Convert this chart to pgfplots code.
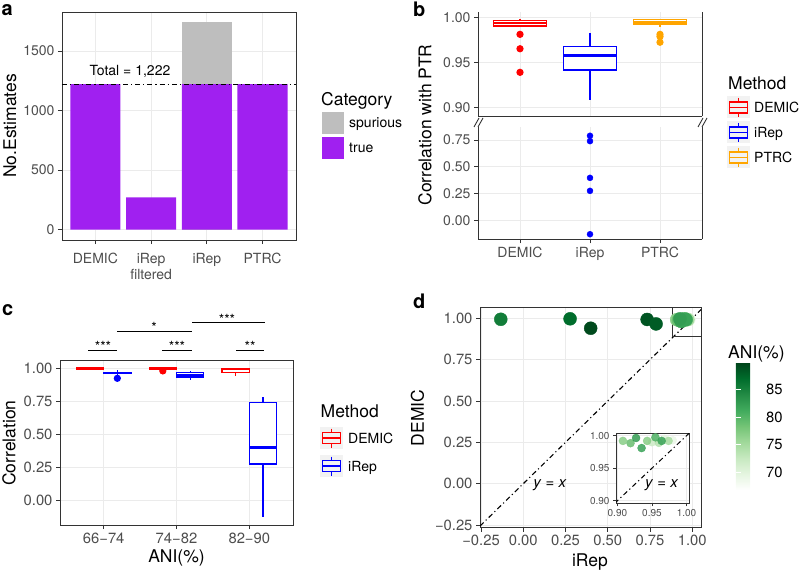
\documentclass[border=0pt]{standalone}
\usepackage{fontspec}
\setmainfont{TeX Gyre Heros}
\usepackage{pgfplots}
\pgfplotsset{compat=1.18}
\usepgfplotslibrary{statistics}

\definecolor{gridgrey}{HTML}{EBEBEB}
\definecolor{ticktext}{HTML}{4D4D4D}
\definecolor{frame}{HTML}{333333}
\definecolor{truepurple}{HTML}{A020F0}
\definecolor{spurgrey}{HTML}{BEBEBE}
\definecolor{keybg}{HTML}{F2F2F2}
\definecolor{ggred}{HTML}{FF0000}
\definecolor{ggblue}{HTML}{0000FF}
\definecolor{ggorange}{HTML}{FFA500}

\newcommand\tickfont{\fontsize{14}{16}\selectfont}
\newcommand\bigtick{\fontsize{14.8}{17}\selectfont}
\newcommand\smalltick{\fontsize{10}{12}\selectfont}
\newcommand\titlefont{\fontsize{17.5}{20}\selectfont}
\newcommand\legfont{\fontsize{14}{16}\selectfont}
\newcommand\panelfont{\fontsize{20}{22}\selectfont\bfseries}

\pgfplotsset{
  colormap={anigreens}{rgb255=(255,255,255) rgb255=(229,245,224) rgb255=(199,233,192)
    rgb255=(161,217,155) rgb255=(116,196,118) rgb255=(65,171,93) rgb255=(35,139,69)
    rgb255=(0,109,44) rgb255=(0,68,27)},
  gg/.style={
    scale only axis, anchor=north west,
    axis line style={frame, line width=0.9pt},
    grid=major, grid style={gridgrey, line width=0.9pt},
    tick align=outside, tick pos=left, major tick length=4pt,
    tick style={frame, line width=0.9pt},
    ticklabel style={font=\tickfont, text=ticktext},
    boxplot/draw direction=y,
  },
  ggbox/.style={
    boxplot/whisker extend=0,
    boxplot/every box/.style={draw, fill=white},
    boxplot/every median/.style={line width=2.4pt},
    line width=1.2pt, mark=*, mark size=3pt,
  },
  dotdash/.style={black, line width=1.1pt, dash pattern=on 5pt off 3pt on 1.2pt off 3pt},
}

% legend key: left, top (pt), colour
\newcommand\boxkey[3]{%
  \begin{scope}[shift={(#1pt,-#2pt)}]
    \fill[keybg] (0pt,0pt) rectangle (23pt,-22pt);
    \draw[#3, line width=1.1pt] (11.5pt,-1.5pt) -- (11.5pt,-5.5pt)
      (11.5pt,-16.5pt) -- (11.5pt,-20.5pt)
      (2.5pt,-5.5pt) rectangle (20.5pt,-16.5pt)
      (2.5pt,-11pt) -- (20.5pt,-11pt);
  \end{scope}}

\begin{document}
\begin{tikzpicture}
\path[use as bounding box] (0pt,0pt) rectangle (800pt,-572pt);

% ---------- a ----------
\begin{axis}[gg, at={(62pt,-12pt)}, width=234pt, height=228pt,
  xmin=0.4, xmax=4.6, ymin=-87, ymax=1828,
  xtick={1,2,3,4}, xticklabels={DEMIC,{iRep\\filtered},iRep,PTRC},
  xticklabel style={align=center, yshift=-6pt},
  ytick={0,500,1000,1500}, yticklabels={0,500,1000,1500}]
\addplot[ybar, bar width=0.9, bar shift=0pt, fill=spurgrey, draw=none]
  coordinates {(3,1741)};
\addplot[ybar, bar width=0.9, bar shift=0pt, fill=truepurple, draw=none]
  coordinates {(1,1222) (2,271) (3,1222) (4,1222)};
\addplot[dotdash] coordinates {(0.4,1222) (4.6,1222)};
\node[font=\legfont] at (axis cs:1.62,1333) {Total = 1,222};
\end{axis}

\node[font=\titlefont, rotate=90] at (10pt,-126pt) {No.Estimates};
\node[font=\titlefont, anchor=base west, inner sep=0pt] at (321pt,-105.5pt) {Category};
\fill[spurgrey] (322pt,-112pt) rectangle (344pt,-134pt);
\fill[truepurple] (322pt,-137pt) rectangle (344pt,-159pt);
\node[font=\legfont, anchor=base west, inner sep=0pt] at (349pt,-128pt) {spurious};
\node[font=\legfont, anchor=base west, inner sep=0pt] at (349pt,-153pt) {true};
\node[font=\panelfont, anchor=base west, inner sep=0pt] at (1.5pt,-15.5pt) {a};

% ---------- b ----------
\begin{axis}[gg, at={(478pt,-12pt)}, width=224pt, height=104pt,
  axis x line*=top, axis y line*=box, axis line style={-},
  xmin=0.4, xmax=3.6, ymin=0.8908, ymax=1.0063,
  xtick={1,2,3}, xticklabels={}, xtick style={draw=none},
  ytick={0.9,0.95,1}, yticklabels={0.90,0.95,1.00}, ytick pos=left]
\addplot[ggred, ggbox, mark options={fill=ggred, draw=ggred},
  boxplot prepared={draw position=1, box extend=0.75, lower whisker=0.9895,
    lower quartile=0.9908, median=0.994, upper quartile=0.9965, upper whisker=0.998}]
  table[row sep=\\, y index=0] {v\\ 0.9815\\ 0.9655\\ 0.9393\\};
\addplot[ggblue, ggbox, mark options={fill=ggblue, draw=ggblue},
  boxplot prepared={draw position=2, box extend=0.75, lower whisker=0.9086,
    lower quartile=0.9419, median=0.9578, upper quartile=0.9678, upper whisker=0.9827}]
  coordinates {};
\addplot[ggorange, ggbox, mark options={fill=ggorange, draw=ggorange},
  boxplot prepared={draw position=3, box extend=0.75, lower whisker=0.990,
    lower quartile=0.993, median=0.9955, upper quartile=0.998, upper whisker=0.999}]
  table[row sep=\\, y index=0] {v\\ 0.9815\\ 0.979\\ 0.9727\\};
\end{axis}

\begin{axis}[gg, at={(478pt,-127pt)}, width=224pt, height=112.3pt,
  axis x line*=bottom, axis y line*=box, axis line style={-},
  xmin=0.4, xmax=3.6, ymin=-0.174, ymax=0.8715,
  xtick={1,2,3}, xticklabels={DEMIC,iRep,PTRC},
  ytick={0,0.25,0.5,0.75}, yticklabels={0.00,0.25,0.50,0.75}, ytick pos=left]
\addplot[only marks, mark=*, mark size=3pt, ggblue]
  coordinates {(2,0.79) (2,0.74) (2,0.398) (2,0.277) (2,-0.127)};
\end{axis}

\draw[frame, line width=0.9pt] (474pt,-127pt) -- (479pt,-118pt) (478pt,-127pt) -- (483pt,-118pt)
  (698pt,-127pt) -- (703pt,-118pt) (702pt,-127pt) -- (707pt,-118pt);
\node[font=\titlefont, rotate=90] at (425pt,-125pt) {Correlation with PTR};
\node[font=\titlefont, anchor=base west, inner sep=0pt] at (728pt,-90pt) {Method};
\boxkey{727}{96.5}{ggred}
\boxkey{727}{121.5}{ggblue}
\boxkey{727}{146.5}{ggorange}
\node[font=\legfont, anchor=base west, inner sep=0pt] at (754pt,-112.5pt) {DEMIC};
\node[font=\legfont, anchor=base west, inner sep=0pt] at (754pt,-137.5pt) {iRep};
\node[font=\legfont, anchor=base west, inner sep=0pt] at (754pt,-162.5pt) {PTRC};
\node[font=\panelfont, anchor=base west, inner sep=0pt] at (413pt,-16.7pt) {b};

% ---------- c ----------
\begin{axis}[gg, at={(60pt,-360.7pt)}, width=233pt, height=164.3pt,
  ticklabel style={font=\bigtick},
  xmin=0.4, xmax=3.6, ymin=-0.184, ymax=1.057,
  xtick={1,2,3}, xticklabels={66−74,74−82,82−90},
  ytick={0,0.25,0.5,0.75,1}, yticklabels={0.00,0.25,0.50,0.75,1.00}]
\addplot[ggred, ggbox, mark options={fill=ggred, draw=ggred},
  boxplot prepared={draw position=0.8125, box extend=0.375, lower whisker=0.994,
    lower quartile=0.995, median=0.997, upper quartile=0.999, upper whisker=1.0}]
  coordinates {};
\addplot[ggblue, ggbox, mark options={fill=ggblue, draw=ggblue},
  boxplot prepared={draw position=1.1875, box extend=0.375, lower whisker=0.95,
    lower quartile=0.96, median=0.965, upper quartile=0.97, upper whisker=0.985}]
  table[row sep=\\, y index=0] {v\\ 0.924\\};
\addplot[ggred, ggbox, mark options={fill=ggred, draw=ggred},
  boxplot prepared={draw position=1.8125, box extend=0.375, lower whisker=0.99,
    lower quartile=0.993, median=0.997, upper quartile=1.0, upper whisker=1.0}]
  table[row sep=\\, y index=0] {v\\ 0.98\\};
\addplot[ggblue, ggbox, mark options={fill=ggblue, draw=ggblue},
  boxplot prepared={draw position=2.1875, box extend=0.375, lower whisker=0.91,
    lower quartile=0.928, median=0.945, upper quartile=0.965, upper whisker=0.982}]
  coordinates {};
\addplot[ggred, ggbox, mark options={fill=ggred, draw=ggred},
  boxplot prepared={draw position=2.8125, box extend=0.375, lower whisker=0.942,
    lower quartile=0.967, median=0.993, upper quartile=0.999, upper whisker=1.0}]
  coordinates {};
\addplot[ggblue, ggbox, mark options={fill=ggblue, draw=ggblue},
  boxplot prepared={draw position=3.1875, box extend=0.375, lower whisker=-0.127,
    lower quartile=0.277, median=0.40, upper quartile=0.74, upper whisker=0.786}]
  coordinates {};
\end{axis}

\draw[black, line width=1pt] (88pt,-350pt) -- (117pt,-350pt) (162pt,-350pt) -- (192pt,-350pt)
  (236pt,-350pt) -- (264pt,-350pt) (117pt,-331.3pt) -- (192pt,-331.3pt)
  (192pt,-322.7pt) -- (265pt,-322.7pt);
\node[font=\legfont, anchor=base, inner sep=0pt] at (103pt,-351pt) {***};
\node[font=\legfont, anchor=base, inner sep=0pt] at (177pt,-351pt) {***};
\node[font=\legfont, anchor=base, inner sep=0pt] at (250pt,-351pt) {**};
\node[font=\legfont, anchor=base, inner sep=0pt] at (154pt,-332.5pt) {*};
\node[font=\legfont, anchor=base, inner sep=0pt] at (227pt,-324pt) {***};
\node[font=\titlefont, rotate=90] at (9pt,-443pt) {Correlation};
\node[font=\titlefont] at (176.5pt,-558pt) {ANI(\%)};
\node[font=\titlefont, anchor=base west, inner sep=0pt] at (320.5pt,-417.3pt) {Method};
\boxkey{320}{427}{ggred}
\boxkey{320}{455}{ggblue}
\node[font=\legfont, anchor=base west, inner sep=0pt] at (348pt,-443pt) {DEMIC};
\node[font=\legfont, anchor=base west, inner sep=0pt] at (348pt,-471pt) {iRep};
\node[font=\panelfont, anchor=base west, inner sep=0pt] at (2pt,-315pt) {c};

% ---------- d ----------
\begin{axis}[gg, at={(480pt,-307.3pt)}, width=221.7pt, height=220.4pt,
  ticklabel style={font=\bigtick},
  xmin=-0.256, xmax=1.056, ymin=-0.266, ymax=1.0665,
  xtick={-0.25,0,0.25,0.5,0.75,1}, xticklabels={−0.25,0.00,0.25,0.50,0.75,1.00},
  ytick={-0.25,0,0.25,0.5,0.75,1}, yticklabels={−0.25,0.00,0.25,0.50,0.75,1.00},
  point meta min=66.8, point meta max=89.9,
  colorbar,
  colorbar style={
    scale only axis, width=26.7pt, height=127.3pt,
    at={(parent axis.north east)}, anchor=north west, xshift=25.6pt, yshift=-55.4pt,
    ytick={70,75,80,85}, yticklabels={70,75,80,85},
    yticklabel pos=right, ytick pos=both,
    tick align=inside, major tick length=5pt, tick style={white, line width=0.8pt},
    yticklabel style={font=\bigtick, text=black},
    axis line style={draw=none},
  }]
\addplot[dotdash] coordinates {(-0.256,-0.256) (1.056,1.056)};
\addplot[scatter, only marks, mark=*, mark size=6.5pt, point meta=explicit,
  scatter/use mapped color={draw=mapped color, fill=mapped color}] coordinates {
  (-0.133,0.994) [85.5]
  (0.277,0.997) [87]
  (0.399,0.940) [89.5]
  (0.733,0.993) [88.8]
  (0.786,0.966) [88.2]
  (0.968,0.995) [70]
  (0.980,0.993) [69]
  (0.950,0.990) [72]
  (0.960,0.989) [74]
  (0.974,0.992) [75]
  (0.908,0.992) [77]
  (0.943,0.992) [77]
  (0.919,0.9885) [79]
  (0.955,0.9975) [80.5]
  (0.935,0.981) [82]
  (0.964,0.992) [82]
  (0.927,0.9965) [82.5]
};
\draw[frame, line width=0.9pt] (axis cs:0.885,0.889) rectangle (axis cs:1.056,1.0665);
\node[font=\fontsize{15}{17}\selectfont] at (axis cs:0.158,-0.008) {\textit{y} = \textit{x}};
\end{axis}

\begin{axis}[gg, at={(616pt,-433.3pt)}, width=73.3pt, height=70pt,
  axis background/.style={fill=white},
  major tick length=3pt, ticklabel style={font=\smalltick},
  xmin=0.898, xmax=1.004, ymin=0.896, ymax=1.0037,
  xtick={0.9,0.95,1}, xticklabels={0.90,0.95,1.00},
  ytick={0.9,0.95,1}, yticklabels={0.90,0.95,1.00},
  point meta min=66.8, point meta max=89.9]
\addplot[dotdash, line width=1pt] coordinates {(0.896,0.896) (1.004,1.004)};
\addplot[scatter, only marks, mark=*, mark size=4pt, point meta=explicit, opacity=0.85,
  scatter/use mapped color={draw=mapped color, fill=mapped color}] coordinates {
  (0.968,0.995) [70]
  (0.980,0.993) [69]
  (0.950,0.990) [72]
  (0.960,0.989) [74]
  (0.974,0.992) [75]
  (0.908,0.992) [77]
  (0.943,0.992) [77]
  (0.919,0.9885) [79]
  (0.955,0.9975) [80.5]
  (0.935,0.981) [82]
  (0.964,0.992) [82]
  (0.927,0.9965) [82.5]
};
\node[font=\fontsize{15}{17}\selectfont] at (axis cs:0.964,0.924) {\textit{y} = \textit{x}};
\end{axis}

\node[font=\titlefont, rotate=90] at (417.5pt,-418pt) {DEMIC};
\node[font=\titlefont] at (590pt,-562pt) {iRep};
\node[font=\titlefont, anchor=base west, inner sep=0pt] at (728pt,-358pt) {ANI(\%)};
\node[font=\panelfont, anchor=base west, inner sep=0pt] at (413pt,-308.3pt) {d};

\end{tikzpicture}
\end{document}
